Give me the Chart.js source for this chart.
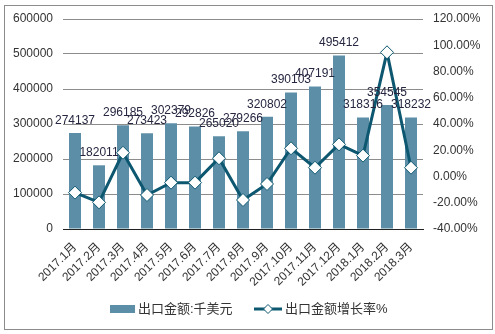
<!DOCTYPE html>
<html>
<head>
<meta charset="utf-8">
<script src="https://cdn.jsdelivr.net/npm/chart.js@4/dist/chart.umd.min.js"></script>
<style>
  html, body { margin: 0; padding: 0; background: #fff; }
  #wrap { position: relative; width: 495px; height: 334px; }
</style>
</head>
<body>
<div id="wrap"><canvas id="exportChart" width="495" height="334"></canvas></div>
<script>
const meses = ["2017.1月", "2017.2月", "2017.3月", "2017.4月", "2017.5月", "2017.6月", "2017.7月", "2017.8月",
  "2017.9月", "2017.10月", "2017.11月", "2017.12月", "2018.1月", "2018.2月", "2018.3月"];
const valores = [274137, 182011, 296185, 273423, 302379, 292826, 265020, 279266,
  320802, 390103, 407191, 495412, 318316, 354545, 318232];
const crescimento = [-12.3, -19.7, 18.1, -14.1, -4.7, -4.7, 13.9, -17.9,
  -5.7, 21.5, 6.7, 24.5, 15.9, 94.6, 6.7];
const nomeBarras = "出口金额:千美元";
const nomeLinha = "出口金额增长率%";

const corBarra = "#5C8FA7";
const corLinha = "#0D5870";
const corTexto = "#333333";
const fonte = "Arial, 'Liberation Sans', sans-serif";
const fonteMista = "Arial, 'Liberation Sans', 'Noto Sans CJK SC', sans-serif";

// rótulos de valor acima das barras + borda + legenda desenhada à mão
const extras = {
  id: "extras",
  afterDatasetsDraw(chart) {
    const c = chart.ctx;
    const meta = chart.getDatasetMeta(1); // dataset das barras
    c.save();
    c.font = "12px " + fonte;
    c.fillStyle = "#262640";
    c.textAlign = "center";
    c.textBaseline = "middle";
    meta.data.forEach((bar, i) => {
      c.fillText(String(valores[i]), bar.x, bar.y - 12.5);
    });
    c.restore();
  },
  afterDraw(chart) {
    const c = chart.ctx;
    c.save();
    c.strokeStyle = "#8c8c8c";
    c.lineWidth = 1;
    c.strokeRect(4.5, 5.5, 488, 324);

    // legenda
    const ly = 309;
    c.fillStyle = corBarra;
    c.fillRect(110, ly - 4, 25, 8);
    c.font = "13px " + fonteMista;
    c.fillStyle = corTexto;
    c.textBaseline = "middle";
    c.textAlign = "left";
    c.fillText(nomeBarras, 138, ly);

    c.strokeStyle = corLinha;
    c.lineWidth = 3;
    c.beginPath();
    c.moveTo(254, ly);
    c.lineTo(282, ly);
    c.stroke();
    c.beginPath();
    c.moveTo(268, ly - 4.5);
    c.lineTo(272.5, ly);
    c.lineTo(268, ly + 4.5);
    c.lineTo(263.5, ly);
    c.closePath();
    c.fillStyle = "#fff";
    c.fill();
    c.lineWidth = 1;
    c.stroke();
    c.fillStyle = corTexto;
    c.fillText(nomeLinha, 285, ly);
    c.restore();
  }
};

new Chart(document.getElementById("exportChart"), {
  data: {
    labels: meses,
    datasets: [
      {
        type: "line",
        label: nomeLinha,
        data: crescimento,
        yAxisID: "y1",
        borderColor: corLinha,
        borderWidth: 3,
        pointStyle: "rectRot",
        pointRadius: 6.5,
        pointBackgroundColor: "#fff",
        pointBorderColor: corLinha,
        pointBorderWidth: 1,
        tension: 0,
        order: 0
      },
      {
        type: "bar",
        label: nomeBarras,
        data: valores,
        yAxisID: "y",
        backgroundColor: corBarra,
        barPercentage: 0.5,
        categoryPercentage: 1,
        order: 1
      }
    ]
  },
  options: {
    responsive: false,
    animation: false,
    layout: { padding: { top: 19, left: 0, right: 0, bottom: 0 } },
    plugins: {
      legend: { display: false },
      tooltip: { enabled: false }
    },
    scales: {
      x: {
        grid: { display: false },
        border: { display: true, color: "#222", width: 1 },
        ticks: {
          color: corTexto,
          font: { size: 12, family: fonteMista },
          autoSkip: false,
          minRotation: 45,
          maxRotation: 45,
          padding: 3
        },
        afterFit(s) { s.height = 105; }
      },
      y: {
        position: "left",
        min: 0,
        max: 600000,
        grid: { color: "#8c8c8c", drawTicks: false },
        border: { display: false },
        ticks: {
          stepSize: 100000,
          color: corTexto,
          font: { size: 12, family: fonte },
          padding: 10,
          callback: v => String(v)
        },
        afterFit(s) { s.width = 63; }
      },
      y1: {
        position: "right",
        min: -40,
        max: 120,
        grid: { display: false, drawTicks: false },
        border: { display: false },
        ticks: {
          stepSize: 20,
          color: corTexto,
          font: { size: 12, family: fonte },
          padding: 10,
          callback: v => v.toFixed(2) + "%"
        },
        afterFit(s) { s.width = 72; }
      }
    }
  },
  plugins: [extras]
});
</script>
</body>
</html>
